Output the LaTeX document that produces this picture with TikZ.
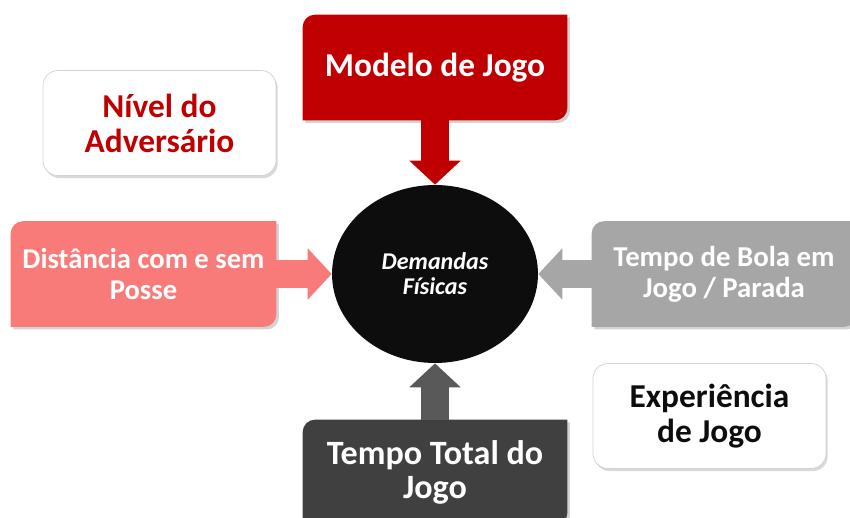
\documentclass[tikz,border=0pt]{standalone}
\usepackage{fontspec}
\setmainfont{Carlito}
\usetikzlibrary{shapes.geometric, arrows.meta, shadows, backgrounds}

\definecolor{vermelho}{HTML}{C00000}
\definecolor{salmao}{HTML}{F97B79}
\definecolor{cinza}{HTML}{A6A6A6}
\definecolor{cinzaesc}{HTML}{404040}
\definecolor{cinzaseta}{HTML}{595959}
\definecolor{preto}{HTML}{0D0D0D}

% caixa com dois cantos arredondados
\newcommand{\caixadiag}[2]{%
  \fill[#2, drop shadow={shadow xshift=1.5pt, shadow yshift=-1.5pt, opacity=0.35}]
    ([yshift=-7pt]#1.north west) arc[start angle=180, end angle=90, radius=7pt]
    -- (#1.north east) -- ([yshift=7pt]#1.south east)
    arc[start angle=0, end angle=-90, radius=7pt] -- (#1.south west) -- cycle;}

\tikzset{
  caixa/.style={minimum width=5.28cm, minimum height=2.1cm, inner sep=0pt,
    align=center, text=white, font=\bfseries\fontsize{19}{20}\selectfont},
  branca/.style={draw=gray!35, fill=white, rounded corners=8.5pt,
    minimum width=4.66cm, minimum height=2.1cm, inner sep=0pt, align=center,
    font=\bfseries\fontsize{19}{20}\selectfont,
    drop shadow={shadow xshift=1pt, shadow yshift=-1.5pt, opacity=0.3}},
  seta/.style={line width=0.56cm, -{Triangle[width=1cm, length=0.48cm]}}
}

\begin{document}
\begin{tikzpicture}[x=0.02cm, y=-0.02cm]
    \useasboundingbox (0,0) rectangle (850,518);

    % Centro
    \node[ellipse, fill=preto, minimum width=4.12cm, minimum height=3.56cm,
      inner sep=0pt, align=center, text=white,
      font=\bfseries\itshape\fontsize{13.7}{14.2}\selectfont] (dem) at (435,274) {Demandas\\Físicas};

    % Caixas
    \node[caixa] (modelo) at (435,67.5) {Modelo de Jogo};
    \node[caixa, minimum width=5.3cm, font=\bfseries\fontsize{16.3}{17.6}\selectfont] (dist) at (143.5,274) {Distância com e sem\\Posse};
    \node[caixa, font=\bfseries\fontsize{16.4}{17.6}\selectfont] (bola) at (724,274) {Tempo de Bola em\\Jogo / Parada};
    \node[caixa, font=\bfseries\fontsize{19.4}{19.6}\selectfont] (total) at (435,472.5) {Tempo Total do\\Jogo};
    \node[branca, text=vermelho] (nivel) at (159.5,123) {Nível do\\Adversário};
    \node[branca, text=preto] (exper) at (709.5,416) {Experiência\\de Jogo};

    \begin{scope}[on background layer]
        \caixadiag{modelo}{vermelho}
        \caixadiag{dist}{salmao}
        \caixadiag{bola}{cinza}
        \caixadiag{total}{cinzaesc}
    \end{scope}

    % Setas
    \draw[seta, vermelho] (modelo) -- (dem);
    \draw[seta, salmao] (dist) -- (dem);
    \draw[seta, cinza] (bola) -- (dem);
    \draw[seta, cinzaseta] (total) -- (dem);
\end{tikzpicture}
\end{document}
